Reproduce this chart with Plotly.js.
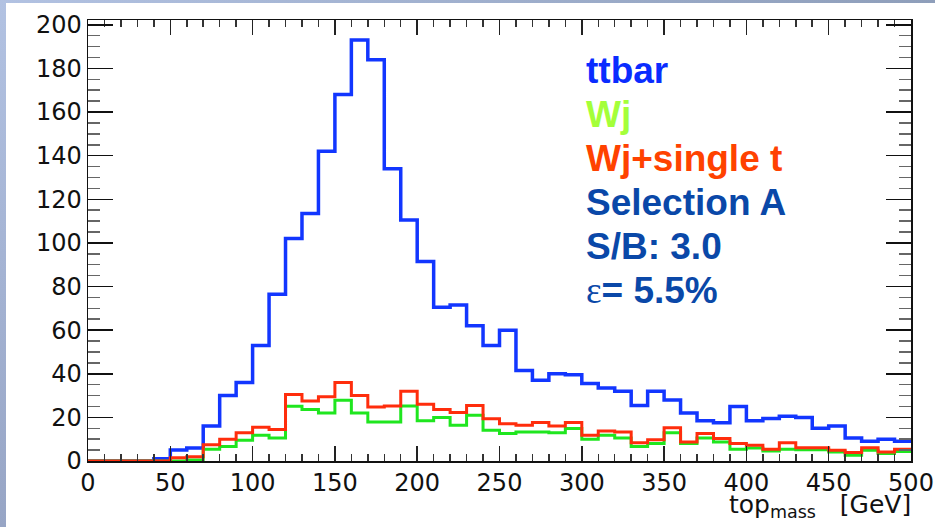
<!DOCTYPE html>
<html>
<head>
<meta charset="utf-8">
<script src="https://cdn.plot.ly/plotly-3.0.1.min.js"></script>
<style>
  html, body { margin: 0; padding: 0; background: #ffffff; }
  #wrap { position: relative; width: 935px; height: 527px; overflow: hidden; background: #ffffff; }
  #bgLeft { position: absolute; left: 0; top: 0; width: 6px; height: 527px;
            background: linear-gradient(to bottom, #b2c2e2, #97a5c5); }
  #bgTop { position: absolute; left: 0; top: 0; width: 935px; height: 3px;
           background: linear-gradient(to right, #b2c2e2, #8e9eba); }
  #chart { position: absolute; left: 0; top: 0; width: 935px; height: 527px; }
</style>
</head>
<body>
<div id="wrap">
  <div id="bgLeft"></div>
  <div id="bgTop"></div>
  <div id="chart"></div>
</div>
<script>
// ---- Data (10 GeV bins, low edges) ----
const binLow = [0, 10, 20, 30, 40, 50, 60, 70, 80, 90,
                100, 110, 120, 130, 140, 150, 160, 170, 180, 190,
                200, 210, 220, 230, 240, 250, 260, 270, 280, 290,
                300, 310, 320, 330, 340, 350, 360, 370, 380, 390,
                400, 410, 420, 430, 440, 450, 460, 470, 480, 490];
const binUpperEnd = 500;

const ttbar = [0, 0, 0, 0, 1, 5, 6, 16, 30, 36,
               53, 76.5, 102, 113.5, 142, 168, 193, 184, 134, 110.5,
               91.5, 70.5, 71.5, 62, 53, 60, 41.5, 37, 40, 39.5,
               35.5, 33.5, 32, 25.5, 32, 28, 22, 18.5, 17.5, 25,
               18.5, 19.5, 20.5, 20, 15, 16, 10.5, 9, 10, 9];

const wj = [0, 0, 0, 0, 0, 0, 0.5, 5.4, 6.7, 9.5,
            11.8, 10.6, 25.1, 23.6, 22, 27.8, 22, 17.9, 17.9, 25.2,
            18.4, 19.9, 16.4, 21, 14.1, 12.6, 13.3, 13.3, 12.9, 14.9,
            10, 11.8, 10.6, 6.7, 8, 12.9, 8, 10.6, 8.7, 5.4,
            6, 4.6, 5.4, 5.2, 5.2, 4.1, 2.6, 4.9, 3.4, 4.4];

const wjSingleT = [0, 0, 0, 0, 0, 1.5, 2, 7.5, 10, 13,
                   15.5, 14.5, 30.5, 27.5, 29.5, 36, 30, 24.8, 25.2, 32,
                   26, 23.6, 22.2, 25.5, 19.4, 17.1, 16.4, 17.6, 16.1, 17.6,
                   11.8, 13.8, 13.3, 8.4, 9.8, 15.3, 8.7, 12.6, 10.3, 8,
                   7.2, 5.4, 8.4, 6.1, 6.1, 4.9, 3.9, 6.1, 4.1, 5.4];

const xTickVals = [0, 50, 100, 150, 200, 250, 300, 350, 400, 450, 500];
const yTickVals = [0, 20, 40, 60, 80, 100, 120, 140, 160, 180, 200];

const legendLines = ["ttbar", "Wj", "Wj+single t", "Selection A", "S/B: 3.0", "\u03b5= 5.5%"];

// ---- Helpers for step histogram ----
function stepX() { return binLow.concat([binUpperEnd]); }
function stepY(v) { return v.concat([v[v.length - 1]]); }

function histTrace(vals, color, width, name) {
  return {
    x: stepX(), y: stepY(vals), type: 'scatter', mode: 'lines', name: name,
    line: { shape: 'hv', color: color, width: width },
    hoverinfo: 'skip', showlegend: false, cliponaxis: true
  };
}

const traces = [
  histTrace(ttbar, '#1236ff', 3.5, 'ttbar'),
  histTrace(wj, '#1fe61f', 3, 'Wj'),
  histTrace(wjSingleT, '#ff2d0c', 3, 'Wj+single t')
];

// ---- Layout geometry (pixels) ----
const W = 935, H = 527;
const M = { l: 88, r: 24, t: 20, b: 66 };
const plotW = W - M.l - M.r, plotH = H - M.t - M.b;
function pxX(px) { return (px - M.l) / plotW; }
function pxY(py) { return (H - M.b - py) / plotH; }

const tickFont = { family: 'DejaVu Sans, Verdana, sans-serif', size: 24, color: '#111111' };
const legFamily = 'Liberation Sans, Arial, Helvetica, sans-serif';
const legColors = ['#0a2cff', '#a4ff3a', '#ff4200', '#0a48a8', '#0a48a8', '#0a48a8'];
const legBaselines = [82, 126, 170, 214, 258, 302];

const annotations = legendLines.map((t, i) => ({
  text: i === 5 ? '<span style="font-weight:normal;font-family:Liberation Serif">\u03b5</span>= 5.5%' : t,
  xref: 'paper', yref: 'paper',
  x: pxX(584), y: pxY(legBaselines[i] - 12),
  xanchor: 'left', yanchor: 'middle', showarrow: false,
  font: { family: legFamily, size: 37, color: legColors[i], weight: 'bold' }
}));

annotations.push({
  text: 'top<sub>mass</sub>\u00a0\u00a0\u00a0[GeV]',
  xref: 'paper', yref: 'paper', x: 1, y: 0, xanchor: 'right', yanchor: 'top',
  yshift: -27, xshift: 2, showarrow: false,
  font: { family: 'DejaVu Sans, Verdana, sans-serif', size: 25, color: '#111111' }
});

const layout = {
  width: W, height: H,
  margin: M,
  paper_bgcolor: 'rgba(0,0,0,0)',
  plot_bgcolor: '#ffffff',
  showlegend: false,
  xaxis: {
    range: [0, 500], tickvals: xTickVals, ticktext: xTickVals.map(String),
    ticks: 'inside', ticklen: 15, tickwidth: 1.5, tickcolor: '#222222',
    showline: true, linecolor: '#111111', linewidth: 1.5, mirror: 'ticks',
    showgrid: false, zeroline: false, tickfont: tickFont,
    minor: { dtick: 10, ticks: 'inside', ticklen: 7, tickwidth: 1.5, tickcolor: '#333333', showgrid: false }
  },
  yaxis: {
    range: [0, 202.2], tickvals: yTickVals, ticktext: yTickVals.map(String),
    ticks: 'inside', ticklen: 25, tickwidth: 1.5, tickcolor: '#111111',
    showline: true, linecolor: '#111111', linewidth: 1.5, mirror: 'ticks',
    showgrid: false, zeroline: false, tickfont: tickFont,
    minor: { dtick: 5, ticks: 'inside', ticklen: 12, tickwidth: 1.5, tickcolor: '#666666', showgrid: false }
  },
  annotations: annotations
};

Plotly.newPlot('chart', traces, layout, { displayModeBar: false, staticPlot: true });
</script>
</body>
</html>
